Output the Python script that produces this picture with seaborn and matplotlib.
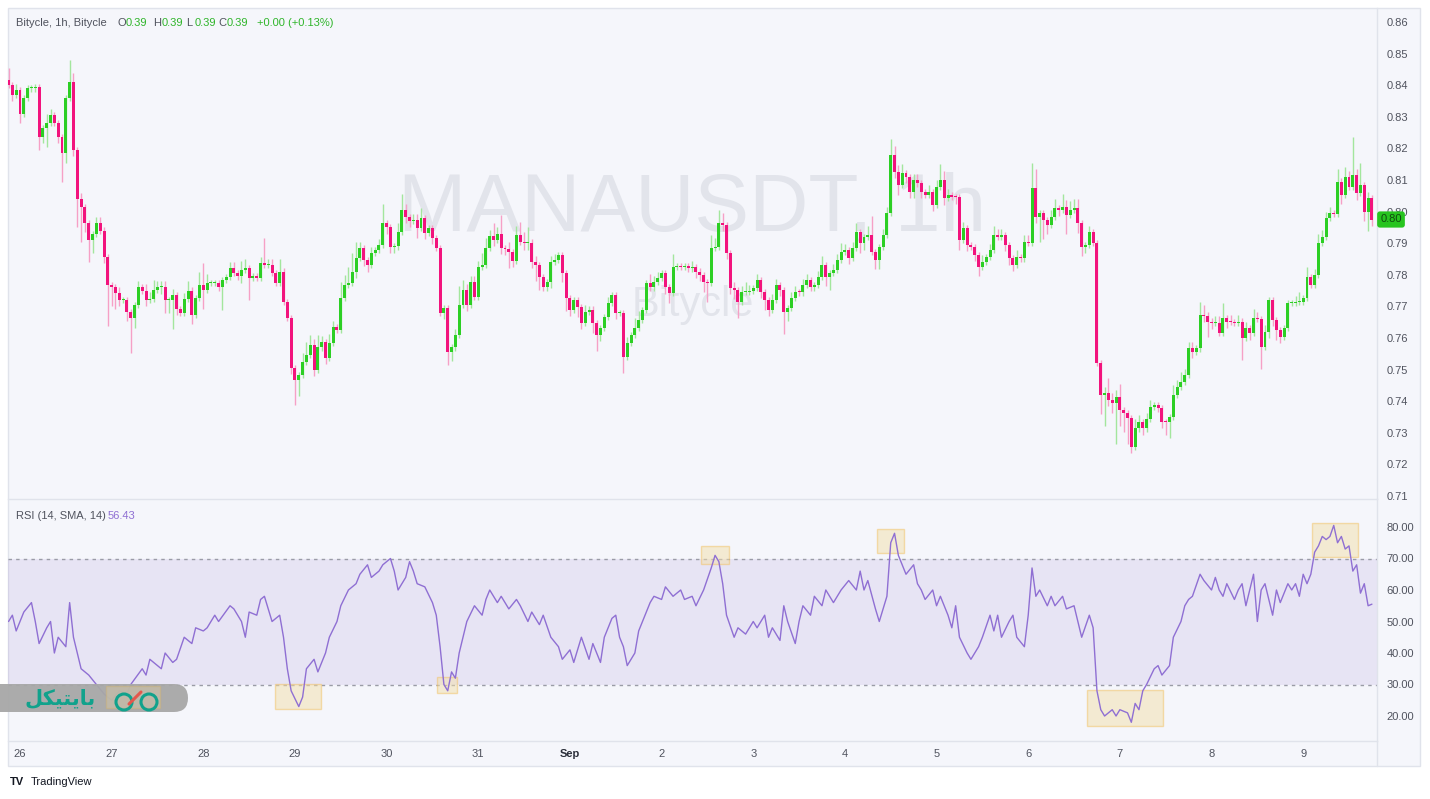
import numpy as np
import pandas as pd
import matplotlib
matplotlib.use("Agg")
import matplotlib.pyplot as plt
import matplotlib.transforms as mtransforms
from matplotlib.patches import Rectangle, FancyBboxPatch, Circle
import seaborn as sns

sns.set_theme(style="white")
plt.rcParams["font.family"] = ["Liberation Sans", "DejaVu Sans"]

# ---------------- data ----------------
first_open = 0.8416
closes = [
    0.840, 0.837, 0.8385, 0.831, 0.836, 0.839, 0.839, 0.8395, 0.8236, 0.8265,
    0.828, 0.8305, 0.828, 0.8236, 0.8185, 0.836, 0.841, 0.8195, 0.804, 0.8015,
    0.7964, 0.791, 0.793, 0.7964, 0.794, 0.7856, 0.7768, 0.776, 0.7742, 0.772,
    0.772, 0.7683, 0.7663, 0.7704, 0.776, 0.775, 0.772, 0.7725, 0.7752, 0.776,
    0.776, 0.772, 0.772, 0.7735, 0.7692, 0.768, 0.7723, 0.775, 0.7673, 0.7727,
    0.7768, 0.7752, 0.7774, 0.7774, 0.7774, 0.776, 0.7783, 0.7793, 0.782, 0.7806,
    0.7795, 0.7815, 0.782, 0.779, 0.7795, 0.779, 0.7837, 0.783, 0.783, 0.7806,
    0.7774, 0.781, 0.7714, 0.7663, 0.7505, 0.7467, 0.7483, 0.7524, 0.7546, 0.7578,
    0.750, 0.757, 0.7587, 0.7537, 0.7584, 0.7635, 0.7625, 0.7727, 0.7768, 0.7774,
    0.781, 0.7853, 0.7885, 0.7847, 0.783, 0.7869, 0.7878, 0.7894, 0.7964, 0.795,
    0.7888, 0.789, 0.7935, 0.8005, 0.7983, 0.797, 0.7972, 0.7948, 0.798, 0.7933,
    0.7948, 0.7916, 0.7885, 0.7679, 0.7695, 0.7556, 0.757, 0.761, 0.7704, 0.7752,
    0.7704, 0.7777, 0.773, 0.7825, 0.783, 0.7885, 0.7923, 0.791, 0.793, 0.7885,
    0.7883, 0.7872, 0.7844, 0.7926, 0.7904, 0.790, 0.7902, 0.784, 0.783, 0.7793,
    0.776, 0.7777, 0.784, 0.7847, 0.7863, 0.7806, 0.7727, 0.7689, 0.772, 0.7698,
    0.7647, 0.7683, 0.769, 0.7647, 0.761, 0.7632, 0.7667, 0.7711, 0.7736, 0.7679,
    0.768, 0.754, 0.7584, 0.761, 0.7632, 0.7657, 0.7689, 0.7774, 0.776, 0.7777,
    0.779, 0.7806, 0.776, 0.7742, 0.7825, 0.7828, 0.7825, 0.7828, 0.782, 0.7825,
    0.781, 0.780, 0.7777, 0.7775, 0.7885, 0.7888, 0.7964, 0.7958, 0.7869, 0.7758,
    0.7752, 0.7714, 0.7746, 0.7747, 0.7748, 0.7758, 0.7783, 0.7746, 0.772, 0.7689,
    0.772, 0.7768, 0.7752, 0.7683, 0.7695, 0.7727, 0.7746, 0.7744, 0.7768, 0.7783,
    0.776, 0.7768, 0.7793, 0.783, 0.7793, 0.7805, 0.7815, 0.7847, 0.7872, 0.7878,
    0.7853, 0.7885, 0.7935, 0.790, 0.792, 0.7926, 0.7872, 0.7847, 0.7888, 0.7926,
    0.7995, 0.8179, 0.8126, 0.8084, 0.8121, 0.811, 0.8063, 0.810, 0.8089, 0.8063,
    0.8053, 0.8063, 0.8021, 0.8079, 0.810, 0.8042, 0.8053, 0.8047, 0.8045, 0.791,
    0.7947, 0.7894, 0.7889, 0.7863, 0.7826, 0.7842, 0.7857, 0.7878, 0.7926, 0.7921,
    0.7926, 0.7894, 0.7852, 0.7831, 0.7857, 0.7852, 0.7905, 0.790, 0.8074, 0.7984,
    0.7995, 0.7973, 0.7958, 0.7984, 0.801, 0.8005, 0.8016, 0.7989, 0.8005, 0.801,
    0.7963, 0.7889, 0.7894, 0.7936, 0.790, 0.752, 0.742, 0.7425, 0.7405, 0.7394,
    0.7414, 0.7372, 0.7362, 0.7346, 0.7256, 0.7314, 0.7335, 0.7314, 0.7343, 0.7383,
    0.7388, 0.7377, 0.7335, 0.7333, 0.7351, 0.742, 0.7446, 0.7462, 0.7483, 0.7567,
    0.7557, 0.7567, 0.7673, 0.7671, 0.7652, 0.7647, 0.7649, 0.7615, 0.7662, 0.7652,
    0.7650, 0.7647, 0.7652, 0.760, 0.7631, 0.7615, 0.7662, 0.7660, 0.7573, 0.762,
    0.772, 0.7657, 0.7625, 0.7604, 0.7631, 0.771, 0.7711, 0.7713, 0.7715, 0.7726,
    0.7794, 0.7768, 0.7799, 0.790, 0.7921, 0.7979, 0.7995, 0.7993, 0.8095, 0.8053,
    0.811, 0.8079, 0.8116, 0.8058, 0.8084, 0.800, 0.8042, 0.7975,
]
# wick lengths above / below the body, in units of 0.001
wick_up = [
    4, 1, 2, 1, 1, 1, 1, 1, 1, 1, 3, 2, 1, 1, 1, 1, 7, 3, 1, 2,
    1, 1, 1, 2, 2, 1, 1, 1, 1, 2, 1, 1, 1, 1, 2, 1, 2, 2, 3, 2,
    2, 2, 1, 2, 1, 1, 2, 3, 1, 1, 4, 7, 3, 1, 1, 1, 1, 1, 2, 2,
    1, 3, 3, 1, 1, 1, 2, 8, 2, 2, 1, 4, 1, 1, 1, 1, 1, 3, 4, 3,
    2, 4, 2, 1, 3, 2, 1, 5, 3, 5, 6, 5, 2, 1, 1, 2, 1, 2, 6, 1,
    1, 1, 3, 5, 2, 1, 2, 2, 3, 1, 1, 1, 1, 1, 1, 1, 1, 2, 6, 3,
    2, 2, 2, 2, 4, 3, 2, 4, 2, 6, 1, 2, 1, 3, 4, 3, 5, 1, 2, 1,
    1, 1, 2, 2, 1, 1, 1, 1, 1, 1, 1, 2, 1, 1, 1, 1, 1, 2, 1, 1,
    1, 1, 2, 1, 3, 3, 1, 1, 3, 2, 2, 1, 1, 1, 4, 1, 1, 1, 1, 2,
    1, 1, 1, 1, 4, 3, 4, 3, 1, 1, 2, 1, 2, 3, 2, 1, 2, 1, 1, 1,
    2, 2, 1, 1, 1, 2, 2, 1, 2, 2, 1, 1, 2, 3, 1, 1, 2, 2, 3, 2,
    1, 2, 3, 1, 1, 3, 6, 1, 1, 2, 2, 5, 3, 2, 3, 1, 1, 2, 2, 1,
    1, 2, 1, 2, 5, 3, 2, 1, 1, 1, 2, 1, 1, 1, 1, 2, 1, 2, 3, 2,
    2, 1, 1, 1, 2, 1, 2, 2, 8, 6, 1, 1, 1, 2, 3, 1, 4, 2, 3, 3,
    3, 1, 1, 2, 1, 1, 1, 2, 5, 2, 2, 4, 1, 1, 1, 3, 2, 1, 2, 2,
    1, 1, 1, 1, 1, 3, 2, 3, 2, 2, 2, 1, 4, 3, 1, 1, 2, 2, 5, 1,
    2, 1, 2, 1, 2, 1, 3, 2, 1, 2, 1, 1, 1, 1, 1, 1, 1, 2, 3, 1,
    3, 1, 2, 3, 2, 2, 2, 1, 4, 1, 3, 2, 12, 2, 7, 1, 2, 1,
]
wick_dn = [
    1, 2, 1, 3, 1, 1, 1, 1, 4, 2, 6, 1, 1, 2, 9, 3, 1, 2, 9, 11,
    3, 7, 4, 1, 1, 2, 13, 6, 5, 2, 1, 3, 11, 3, 1, 1, 2, 1, 1, 1,
    2, 4, 4, 9, 2, 1, 1, 1, 3, 1, 1, 6, 1, 1, 1, 1, 7, 1, 1, 1,
    1, 2, 1, 7, 1, 1, 1, 1, 1, 1, 1, 1, 1, 1, 2, 8, 5, 1, 1, 1,
    2, 1, 1, 2, 1, 1, 1, 1, 1, 1, 1, 2, 1, 2, 2, 1, 1, 1, 1, 2,
    2, 2, 1, 1, 2, 2, 1, 3, 1, 2, 1, 2, 1, 1, 2, 4, 3, 1, 1, 1,
    2, 1, 1, 1, 1, 1, 1, 2, 1, 2, 2, 5, 2, 1, 1, 2, 2, 2, 5, 4,
    1, 1, 2, 1, 1, 3, 4, 2, 1, 3, 2, 1, 1, 3, 5, 2, 1, 1, 1, 2,
    1, 5, 1, 1, 1, 1, 1, 1, 1, 1, 1, 1, 2, 3, 1, 1, 1, 1, 1, 1,
    2, 2, 3, 6, 1, 1, 1, 2, 2, 2, 3, 5, 1, 1, 1, 1, 1, 2, 3, 2,
    1, 1, 2, 7, 3, 1, 1, 1, 1, 1, 1, 1, 1, 1, 3, 4, 1, 1, 1, 1,
    2, 1, 1, 3, 2, 1, 1, 3, 3, 1, 1, 1, 2, 3, 1, 2, 2, 2, 1, 2,
    1, 1, 2, 1, 1, 2, 1, 1, 2, 3, 1, 2, 1, 2, 3, 1, 1, 1, 1, 1,
    1, 2, 2, 2, 1, 1, 1, 1, 1, 2, 8, 6, 3, 1, 1, 2, 1, 6, 1, 1,
    3, 3, 2, 1, 1, 1, 6, 10, 2, 3, 13, 5, 6, 8, 2, 1, 1, 2, 1, 1,
    1, 1, 2, 4, 5, 1, 1, 1, 1, 1, 2, 1, 1, 2, 5, 2, 1, 1, 1, 2,
    1, 1, 1, 7, 1, 2, 1, 1, 7, 1, 2, 2, 3, 2, 1, 1, 1, 1, 1, 1,
    1, 1, 1, 1, 1, 1, 1, 1, 1, 3, 1, 1, 1, 2, 1, 3, 6, 2,
]

rsi_idx = [
    0, 1, 2, 4, 6, 7, 8, 10, 11, 12, 13, 15, 16, 17, 19, 21, 23, 25, 27, 29,
    31, 32, 35, 36, 37, 40, 41, 43, 44, 46, 48, 49, 51, 52, 54, 55, 58, 59, 61, 62,
    63, 65, 66, 67, 69, 71, 72, 73, 74, 76, 77, 78, 80, 81, 83, 84, 86, 87, 89, 91,
    92, 94, 95, 97, 98, 100, 101, 102, 104, 105, 106, 107, 109, 111, 112, 113, 114, 115, 116, 117,
    118, 119, 120, 122, 124, 125, 126, 128, 129, 131, 133, 134, 136, 137, 139, 140, 142, 144, 145, 147,
    148, 150, 152, 153, 155, 156, 158, 159, 160, 161, 162, 164, 165, 166, 168, 169, 171, 172, 174, 176,
    177, 179, 180, 182, 184, 185, 186, 187, 188, 190, 191, 193, 195, 196, 198, 199, 200, 202, 203, 204,
    206, 207, 208, 210, 211, 213, 214, 216, 218, 220, 222, 223, 224, 225, 227, 228, 230, 231, 232, 233,
    234, 235, 237, 238, 239, 240, 242, 243, 244, 246, 247, 248, 249, 251, 252, 254, 255, 257, 258, 259,
    260, 262, 263, 264, 266, 267, 268, 269, 270, 272, 273, 274, 276, 277, 279, 280, 281, 283, 284, 285,
    286, 287, 289, 290, 291, 293, 294, 295, 296, 297, 298, 300, 301, 302, 304, 305, 307, 308, 309, 310,
    312, 313, 315, 316, 317, 318, 319, 321, 322, 323, 324, 326, 327, 328, 329, 331, 332, 333, 335, 336,
    337, 338, 339, 340, 341, 342, 343, 344, 345, 346, 347, 348, 349, 350, 351, 352, 353, 354, 355, 356,
    357,
]
rsi_val = [
    50, 52, 47, 53, 56, 50, 43, 48, 50, 40, 45, 42, 56, 45, 35, 33, 30, 27, 25, 28,
    27, 30, 35, 33, 38, 35, 40, 37, 38, 45, 43, 48, 47, 48, 52, 50, 55, 54, 50, 45,
    53, 52, 57, 58, 50, 52, 45, 35, 28, 23, 26, 35, 38, 34, 40, 45, 50, 55, 60, 62,
    65, 68, 64, 66, 68, 70, 66, 60, 64, 69, 66, 62, 61, 56, 52, 42, 30, 28, 34, 32,
    40, 45, 50, 55, 52, 57, 60, 56, 58, 54, 57, 55, 50, 53, 49, 52, 45, 42, 38, 41,
    37, 45, 38, 43, 37, 45, 51, 52, 45, 42, 36, 40, 47, 50, 56, 58, 57, 61, 58, 60,
    57, 58, 55, 60, 67, 71, 69, 62, 52, 45, 48, 46, 50, 48, 52, 45, 48, 44, 55, 50,
    43, 50, 55, 52, 58, 55, 60, 56, 60, 63, 60, 66, 60, 63, 54, 50, 58, 75, 78, 71,
    68, 65, 68, 62, 60, 57, 60, 55, 58, 52, 48, 55, 45, 40, 38, 42, 45, 52, 47, 52,
    45, 50, 52, 45, 42, 52, 67, 58, 60, 55, 58, 55, 58, 54, 55, 50, 45, 52, 48, 28,
    22, 20, 22, 20, 22, 21, 18, 24, 22, 28, 30, 35, 36, 33, 36, 45, 50, 55, 57, 58,
    65, 63, 60, 64, 60, 58, 62, 57, 60, 62, 55, 65, 50, 60, 62, 52, 60, 56, 62, 60,
    62, 58, 65, 62, 65, 72, 74, 77, 76, 77, 80.5, 75, 77, 73, 74, 66, 68, 59, 62, 55,
    55.5,
]

day_labels = ["26", "27", "28", "29", "30", "31", "Sep", "2", "3", "4", "5", "6", "7", "8", "9"]
day_start_idx = [3 + 24 * k for k in range(len(day_labels))]
price_ticks = [0.71, 0.72, 0.73, 0.74, 0.75, 0.76, 0.77, 0.78, 0.79, 0.80,
               0.81, 0.82, 0.83, 0.84, 0.85, 0.86]
rsi_ticks = [20, 30, 40, 50, 60, 70, 80]
rsi_upper, rsi_lower = 70, 30
# highlighted zones: (start idx, end idx, low rsi, high rsi)
zones_i0 = [25.5, 69.7, 112.3, 181.4, 227.4, 282.3, 341.4]
zones_i1 = [39.6, 81.7, 117.5, 188.7, 234.4, 302.4, 353.4]
zones_lo = [22.5, 22.2, 27.3, 68.3, 71.7, 16.8, 70.5]
zones_hi = [29.5, 30.2, 32.4, 74.0, 79.4, 28.3, 81.3]

# ---------------- derived OHLC ----------------
n = len(closes)
idx = np.arange(n)
opens = [first_open] + closes[:-1]
df = pd.DataFrame({"i": idx, "open": opens, "close": closes,
                   "up": wick_up[:n], "dn": wick_dn[:n]})
df["top"] = df[["open", "close"]].max(axis=1)
df["bot"] = df[["open", "close"]].min(axis=1)
df["high"] = df["top"] + df["up"] / 1000.0
df["low"] = df["bot"] - df["dn"] / 1000.0
df["bull"] = df["close"] >= df["open"]

# ---------------- layout ----------------
W, H = 1430, 799
BG = "#f5f6fb"
GRIDC = "#e0e3eb"
TXT = "#50535e"
GREEN = "#2ccf24"
PINK = "#f2137d"
GREEN_W = "#a3e69d"
PINK_W = "#f6a0c6"

fig = plt.figure(figsize=(W / 100, H / 100), dpi=100, facecolor="white")

def px_axes(x0, y0, x1, y1):
    return fig.add_axes([x0 / W, 1 - y1 / H, (x1 - x0) / W, (y1 - y0) / H])

fig.patches.append(Rectangle((8 / W, 1 - 766 / H), (1420 - 8) / W, (766 - 8) / H,
                             transform=fig.transFigure, facecolor=BG,
                             edgecolor=GRIDC, lw=1, zorder=-10))

X0, S = 8.54, 3.819
xl = ((8 - X0) / S, (1377 - X0) / S)

# price pane
ax = px_axes(8, 8, 1377, 499)
ax.set_facecolor("none")
ax.set_xlim(*xl)
ax.set_ylim(0.86 - (499 - 22) / 3160, 0.86 + (22 - 8) / 3160)

ax.text(0.5, 0.59, "MANAUSDT, 1h", transform=ax.transAxes, ha="center", va="center",
        fontsize=59, color="#e2e4eb", zorder=0,
        family=["Liberation Sans Narrow", "Liberation Sans", "DejaVu Sans"])
ax.text(0.5, 0.395, "Bitycle", transform=ax.transAxes, ha="center", va="center",
        fontsize=30, color="#e2e4eb", zorder=0, family=["Liberation Sans", "DejaVu Sans"])

wcol = np.where(df["bull"], GREEN_W, PINK_W)
bcol = np.where(df["bull"], GREEN, PINK)
ax.vlines(df["i"], df["low"], df["high"], colors=wcol, lw=1.0, zorder=2)
heights = np.maximum(df["top"] - df["bot"], 0.00032)
ax.bar(df["i"], heights, bottom=df["bot"], width=0.78, color=bcol, linewidth=0, zorder=3)

ax.yaxis.tick_right()
ax.set_yticks(price_ticks)
ax.set_yticklabels([f"{t:.2f}" for t in price_ticks])
ax.tick_params(axis="y", length=0, pad=7, labelsize=8, labelcolor=TXT)
ax.set_xticks([])
for s in ["top", "left"]:
    ax.spines[s].set_visible(False)
for s in ["right", "bottom"]:
    ax.spines[s].set_color(GRIDC)
    ax.spines[s].set_linewidth(1)

last_close = closes[-1]
trans = mtransforms.blended_transform_factory(ax.transAxes, ax.transData)
ax.text((1391 - 8) / (1377 - 8), last_close, f"{last_close:.2f}", transform=trans,
        ha="center", va="center", fontsize=8, color="#0f4a0e", zorder=20, clip_on=False,
        bbox=dict(boxstyle="round,pad=0.28,rounding_size=0.25", fc="#27c41f", ec="none"))

# RSI pane
ax2 = px_axes(8, 499, 1377, 741)
ax2.set_facecolor("none")
ax2.set_xlim(*xl)
ax2.set_ylim(80 - (741 - 527) / 3.15, 80 + (527 - 499) / 3.15)
ax2.axhspan(rsi_lower, rsi_upper, color="#7e57c2", alpha=0.11, lw=0, zorder=1)
for lv in (rsi_upper, rsi_lower):
    ax2.axhline(lv, color="#9a9ca6", lw=1, ls=(0, (2.5, 3)), zorder=2)
for a, b, lo, hi in zip(zones_i0, zones_i1, zones_lo, zones_hi):
    ax2.add_patch(Rectangle((a, lo), b - a, hi - lo, facecolor="#f3dfaa", alpha=0.5,
                            edgecolor="#f2c161", lw=1, zorder=3))
rsi_df = pd.DataFrame({"i": rsi_idx, "rsi": rsi_val})
sns.lineplot(data=rsi_df, x="i", y="rsi", ax=ax2, color="#8f6fd3", lw=1.0, zorder=4)
ax2.set_xlabel("")
ax2.set_ylabel("")
ax2.yaxis.tick_right()
ax2.set_yticks(rsi_ticks)
ax2.set_yticklabels([f"{t:.2f}" for t in rsi_ticks])
ax2.tick_params(axis="y", length=0, pad=7, labelsize=8, labelcolor=TXT)
ax2.set_xticks(day_start_idx)
ax2.set_xticklabels(day_labels)
ax2.tick_params(axis="x", length=0, pad=6, labelsize=8, labelcolor=TXT)
for lab in ax2.get_xticklabels():
    if lab.get_text() == "Sep":
        lab.set_fontweight("bold")
        lab.set_color("#2a2e39")
for s in ["top", "left"]:
    ax2.spines[s].set_visible(False)
for s in ["right", "bottom"]:
    ax2.spines[s].set_color(GRIDC)
    ax2.spines[s].set_linewidth(1)

# overlay in pixel coordinates
ov = fig.add_axes([0, 0, 1, 1])
ov.set_xlim(0, W)
ov.set_ylim(H, 0)
ov.axis("off")
ov.patch.set_alpha(0)
ov.set_zorder(10)

ov.plot([1377, 1377], [741, 766], color=GRIDC, lw=1)

# header legend
hy = 23
ov.text(16, hy, "Bitycle, 1h, Bitycle", fontsize=8, color=TXT, va="center")
hdr = [("O", 117), ("H", 153), ("L", 186), ("C", 218)]
for lab, x in hdr:
    ov.text(x, hy, lab, fontsize=8, color=TXT, va="center")
    ov.text(x + 8.5, hy, "0.39", fontsize=8, color="#2fb52a", va="center")
ov.text(257, hy, "+0.00 (+0.13%)", fontsize=8, color="#2fb52a", va="center")

ov.text(16, 516, "RSI (14, SMA, 14)", fontsize=8, color=TXT, va="center")
ov.text(108, 516, "56.43", fontsize=8, color="#8f6fd3", va="center")

# publisher badge
ov.add_patch(FancyBboxPatch((-30, 684), 218, 28,
                            boxstyle="round,pad=0,rounding_size=14",
                            fc="#a7a7a7", ec="none", alpha=0.95, zorder=5))
persian = "\ufede\ufb91\ufbff\ufe98\ufbfe\ufe8e\ufe91"
ov.text(60, 698, persian, fontsize=15, color="#11a28c", ha="center", va="center",
        fontweight="bold", family=["DejaVu Sans"], zorder=6)
ov.add_patch(Rectangle((106, 686), 54, 22, facecolor="#e6d5a8", alpha=0.35,
                       edgecolor="#d9b767", lw=1, zorder=6))
ov.add_patch(Circle((124, 702), 8, fill=False, ec="#11a28c", lw=2.2, zorder=7))
ov.add_patch(Circle((149, 702), 8, fill=False, ec="#11a28c", lw=2.2, zorder=7))
ov.plot([129, 141], [704, 692], color="#e4574c", lw=2.2, zorder=8, solid_capstyle="round")

# TradingView footer
ov.text(10, 782, "TV", fontsize=8, fontweight="bold", color="#131722", va="center")
ov.text(31, 782, "TradingView", fontsize=8, color="#131722", va="center")

fig.savefig("out.png", dpi=100, facecolor="white")
